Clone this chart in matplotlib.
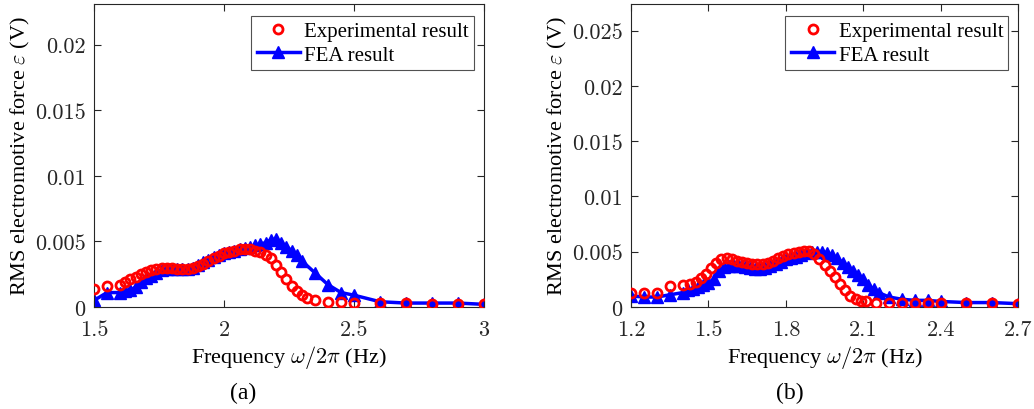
import numpy as np
import matplotlib
matplotlib.use('Agg')
from matplotlib import pyplot as plt

plt.rcParams['mathtext.fontset'] = 'cm'
plt.rcParams['font.family'] = ['Liberation Serif', 'DejaVu Serif']

# ---- panel (a) ----
freq_exp_a = [1.5, 1.55, 1.6, 1.62, 1.64, 1.66, 1.68, 1.70, 1.72, 1.74, 1.76, 1.78, 1.80,
              1.82, 1.84, 1.86, 1.88, 1.90, 1.92, 1.94, 1.96, 1.98, 2.00, 2.02, 2.04,
              2.06, 2.08, 2.10, 2.12, 2.14, 2.16, 2.18, 2.20, 2.22, 2.24, 2.26, 2.28,
              2.30, 2.32, 2.35, 2.40, 2.45, 2.5, 2.6, 2.7, 2.8, 2.9, 3.0]
emf_exp_a = [0.0014, 0.0016, 0.0017, 0.0019, 0.0021, 0.0023, 0.0025, 0.0027, 0.0028,
             0.0029, 0.0030, 0.0030, 0.0030, 0.0029, 0.0029, 0.0029, 0.0030, 0.0031,
             0.0033, 0.0035, 0.0037, 0.0039, 0.0041, 0.0042, 0.0043, 0.0044, 0.0044,
             0.0044, 0.0043, 0.0042, 0.0040, 0.0037, 0.0032, 0.0027, 0.0021, 0.0016,
             0.0012, 0.0009, 0.0007, 0.0005, 0.0004, 0.0004, 0.0003, 0.0003, 0.0003,
             0.0002, 0.0002, 0.0002]
freq_fea_a = [1.5, 1.55, 1.6, 1.62, 1.64, 1.66, 1.68, 1.70, 1.72, 1.74, 1.76, 1.78, 1.80,
              1.82, 1.84, 1.86, 1.88, 1.90, 1.92, 1.94, 1.96, 1.98, 2.00, 2.02, 2.04,
              2.06, 2.08, 2.10, 2.12, 2.14, 2.16, 2.18, 2.20, 2.22, 2.24, 2.26, 2.28,
              2.30, 2.35, 2.40, 2.45, 2.5, 2.6, 2.7, 2.8, 2.9, 3.0]
emf_fea_a = [0.0005, 0.0011, 0.0011, 0.0012, 0.0013, 0.0015, 0.0019, 0.0022, 0.0024,
             0.0026, 0.0028, 0.0029, 0.0029, 0.0029, 0.0029, 0.0029, 0.0030, 0.0032,
             0.0034, 0.0036, 0.0038, 0.0040, 0.0041, 0.0042, 0.0043, 0.0044, 0.0045,
             0.0046, 0.0047, 0.0048, 0.0049, 0.0051, 0.0052, 0.0049, 0.0046, 0.0043,
             0.0040, 0.0035, 0.0026, 0.0017, 0.0011, 0.0009, 0.0004, 0.0003, 0.0003,
             0.0003, 0.0002]

# ---- panel (b) ----
freq_exp_b = [1.2, 1.25, 1.3, 1.35, 1.40, 1.43, 1.45, 1.47, 1.49, 1.51, 1.53, 1.55, 1.57,
              1.59, 1.61, 1.63, 1.65, 1.67, 1.69, 1.71, 1.73, 1.75, 1.77, 1.79, 1.81,
              1.83, 1.85, 1.87, 1.89, 1.91, 1.93, 1.95, 1.97, 1.99, 2.01, 2.03, 2.05,
              2.07, 2.09, 2.11, 2.15, 2.2, 2.25, 2.3, 2.35, 2.4, 2.5, 2.6, 2.7]
emf_exp_b = [0.0013, 0.0013, 0.0013, 0.0019, 0.0020, 0.0021, 0.0023, 0.0026, 0.0030,
             0.0035, 0.0040, 0.0043, 0.0044, 0.0043, 0.0042, 0.0041, 0.0040, 0.0039,
             0.0039, 0.0039, 0.0040, 0.0042, 0.0044, 0.0046, 0.0048, 0.0049, 0.0050,
             0.0051, 0.0051, 0.0048, 0.0043, 0.0038, 0.0033, 0.0027, 0.0021, 0.0015,
             0.0010, 0.0007, 0.0005, 0.0005, 0.0004, 0.0004, 0.0004, 0.0004, 0.0004,
             0.0004, 0.0004, 0.0004, 0.0003]
freq_fea_b = [1.2, 1.25, 1.3, 1.35, 1.40, 1.42, 1.44, 1.46, 1.48, 1.50, 1.52, 1.54, 1.56,
              1.58, 1.60, 1.62, 1.64, 1.66, 1.68, 1.70, 1.72, 1.74, 1.76, 1.78, 1.80,
              1.82, 1.84, 1.86, 1.88, 1.90, 1.92, 1.94, 1.96, 1.98, 2.00, 2.02, 2.04,
              2.06, 2.08, 2.10, 2.12, 2.14, 2.16, 2.2, 2.25, 2.3, 2.35, 2.4, 2.5, 2.6, 2.7]
emf_fea_b = [0.0010, 0.0009, 0.0009, 0.0011, 0.0013, 0.0015, 0.0016, 0.0018, 0.0020,
             0.0022, 0.0025, 0.0033, 0.0036, 0.0037, 0.0037, 0.0037, 0.0036, 0.0035,
             0.0034, 0.0034, 0.0035, 0.0037, 0.0039, 0.0041, 0.0043, 0.0044, 0.0045,
             0.0047, 0.0049, 0.0050, 0.0050, 0.0050, 0.0049, 0.0047, 0.0044, 0.0040,
             0.0036, 0.0033, 0.0029, 0.0025, 0.0020, 0.0016, 0.0013, 0.0009, 0.0007,
             0.0006, 0.0006, 0.0005, 0.0004, 0.0004, 0.0003]

xticks_a = [1.5, 2, 2.5, 3]
xtick_labels_a = ['1.5', '2', '2.5', '3']
yticks_a = [0, 0.005, 0.01, 0.015, 0.02]
ytick_labels_a = ['0', '0.005', '0.01', '0.015', '0.02']
xticks_b = [1.2, 1.5, 1.8, 2.1, 2.4, 2.7]
xtick_labels_b = ['1.2', '1.5', '1.8', '2.1', '2.4', '2.7']
yticks_b = [0, 0.005, 0.01, 0.015, 0.02, 0.025]
ytick_labels_b = ['0', '0.005', '0.01', '0.015', '0.02', '0.025']

fig = plt.figure(figsize=(10.34, 4.10), dpi=100)
ax_a = fig.add_axes([0.0909, 0.2488, 0.3772, 0.739])
ax_b = fig.add_axes([0.6103, 0.2488, 0.3743, 0.739])

panels = [
    (ax_a, freq_exp_a, emf_exp_a, freq_fea_a, emf_fea_a, (1.5, 3), 0.0231,
     xticks_a, xtick_labels_a, yticks_a, ytick_labels_a, '(a)', 243),
    (ax_b, freq_exp_b, emf_exp_b, freq_fea_b, emf_fea_b, (1.2, 2.7), 0.0274,
     xticks_b, xtick_labels_b, yticks_b, ytick_labels_b, '(b)', 790),
]

for (ax, fx, ex, ff, ef, xlim, ymax, xt, xtl, yt, ytl, tag, tag_x) in panels:
    ax.plot(fx, ex, 'o', ls='none', mfc='none', mec='red', mew=2.0, ms=6.5,
            label='Experimental result', zorder=3)
    ax.plot(ff, ef, '-^', color='blue', lw=2.5, ms=8, mfc='blue', mec='blue',
            label='FEA result', zorder=2)
    ax.set_xlim(*xlim)
    ax.set_ylim(0, ymax)
    ax.set_xticks(xt)
    ax.set_xticklabels(xtl, fontfamily='cmr10', fontsize=16)
    ax.set_yticks(yt)
    ax.set_yticklabels(ytl, fontfamily='cmr10', fontsize=16)
    ax.tick_params(direction='in', top=True, right=True, length=5, width=0.8,
                   colors='#262626')
    ax.tick_params(axis='x', pad=9)
    ax.tick_params(axis='y', pad=6)
    for s in ax.spines.values():
        s.set_color('#262626')
        s.set_linewidth(0.8)
    ax.set_xlabel(r'Frequency $\omega/2\pi$ (Hz)', fontsize=16, labelpad=3)
    ax.set_ylabel(r'RMS electromotive force $\varepsilon$ (V)', fontsize=16, labelpad=2)
    leg = ax.legend(loc='upper right', bbox_to_anchor=(0.975, 0.96), fontsize=15,
                    frameon=True, fancybox=False, edgecolor='#262626',
                    handlelength=2.1, handletextpad=0.2, borderpad=0.25,
                    labelspacing=0.2, borderaxespad=0.0)
    leg.get_frame().set_linewidth(0.8)
    fig.text(tag_x / 1034, 1 - 393 / 410, tag, ha='center', va='center', fontsize=17)

fig.savefig('out.png', dpi=100)
